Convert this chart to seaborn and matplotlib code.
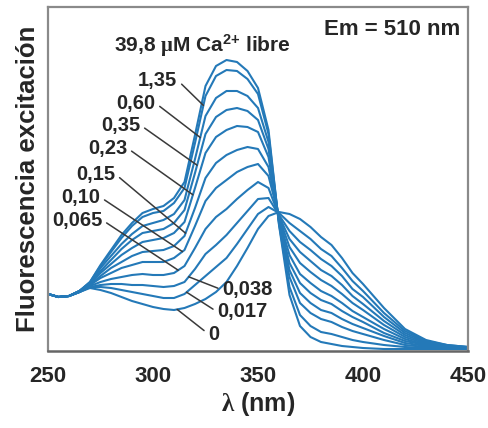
import matplotlib.pyplot as plt
import numpy as np
import pandas as pd
import seaborn as sns

# excitation wavelength (nm)
wavelength = [250, 255, 260, 265, 270, 275, 280, 285, 290, 295, 300, 305, 310, 315, 320, 325, 330, 335,
              340, 345, 350, 355, 360, 365, 370, 375, 380, 385, 390, 395, 400, 410, 420, 430, 440, 450]

# free Ca2+ (uM) labels, lowest to highest
ca_labels = ["0", "0,017", "0,038", "0,065", "0,10", "0,15", "0,23", "0,35", "0,60", "1,35", "39,8"]

# fluorescence (arbitrary units)
f_0 = [56, 53, 54, 58, 62, 60, 57, 53, 49, 46, 43, 41, 40, 42, 46, 51, 58, 68,
       84, 102, 121, 134, 138, 136, 131, 123, 113, 105, 92, 77, 66, 42, 21, 10, 5, 3]
f_0017 = [56, 53, 54, 58, 63, 63, 62, 60, 58, 56, 54, 52, 52, 56, 65, 74, 83, 92,
          106, 121, 136, 143, 137, 127, 119, 111, 101, 94, 82, 69, 59, 37, 19, 9, 5, 3]
f_0038 = [56, 53, 54, 58, 63, 65, 66, 66, 65, 65, 64, 63, 64, 68, 81, 96, 105, 115,
          127, 139, 151, 152, 135, 119, 108, 100, 91, 84, 74, 61, 53, 33, 17, 8, 4, 3]
f_0065 = [56, 53, 54, 58, 64, 68, 71, 73, 75, 76, 75, 75, 77, 84, 102, 121, 133, 141,
          151, 160, 168, 162, 134, 111, 98, 89, 80, 74, 65, 54, 46, 29, 15, 7, 4, 2]
f_010 = [56, 53, 54, 58, 65, 72, 77, 82, 85, 88, 88, 88, 92, 100, 124, 149, 162, 170,
         178, 183, 186, 174, 133, 103, 87, 78, 70, 64, 56, 47, 40, 25, 13, 6, 3, 2]
f_015 = [56, 53, 54, 59, 65, 74, 82, 88, 94, 98, 99, 100, 104, 114, 142, 172, 187, 195,
         200, 203, 201, 183, 131, 95, 76, 67, 59, 54, 47, 39, 33, 21, 11, 5, 3, 2]
f_023 = [56, 53, 54, 59, 66, 77, 86, 95, 102, 108, 110, 112, 117, 128, 162, 197, 213, 220,
         224, 223, 218, 193, 130, 87, 67, 57, 50, 46, 39, 33, 28, 17, 9, 5, 3, 2]
f_035 = [56, 53, 54, 59, 67, 79, 90, 101, 110, 117, 119, 121, 127, 140, 177, 216, 233, 240,
         242, 239, 230, 201, 129, 80, 57, 47, 40, 37, 31, 26, 22, 14, 7, 4, 2, 2]
f_060 = [56, 53, 54, 59, 67, 82, 94, 106, 116, 124, 127, 130, 136, 150, 191, 234, 252, 259,
         259, 254, 242, 208, 128, 73, 47, 37, 31, 28, 23, 19, 16, 10, 5, 3, 2, 2]
f_135 = [56, 53, 54, 59, 68, 84, 98, 112, 124, 133, 137, 139, 147, 162, 207, 254, 274, 280,
         279, 271, 256, 216, 126, 63, 35, 24, 18, 16, 13, 10, 8, 5, 3, 2, 1, 1]
f_398 = [56, 53, 54, 59, 68, 85, 100, 115, 127, 137, 141, 144, 152, 168, 215, 264, 284, 290,
         288, 279, 262, 220, 125, 55, 24, 13, 8, 6, 4, 3, 2, 1, 1, 1, 1, 1]

curves = [f_0, f_0017, f_0038, f_0065, f_010, f_015, f_023, f_035, f_060, f_135, f_398]

# where each label's leader line touches its curve (nm)
label_nm = [311.5, 316, 317, 312, 314, 315.5, 319, 321, 322.5, 324]
# text anchor for each label (nm, fluorescence)
label_xy = [(326.4, 16), (330.7, 38), (333.1, 60), (275.8, 130), (274.8, 153),
            (282.0, 176), (287.7, 202), (293.9, 225), (301.1, 247), (311.6, 270)]

df = pd.concat([pd.DataFrame({"nm": wavelength, "F": c, "Ca": lab})
                for lab, c in zip(ca_labels, curves)], ignore_index=True)

sns.set_style("white")
plt.rcParams["font.family"] = ["Liberation Sans", "DejaVu Sans"]
plt.rcParams["font.weight"] = "bold"
plt.rcParams["mathtext.fontset"] = "custom"
plt.rcParams["mathtext.rm"] = "Liberation Serif"
plt.rcParams["mathtext.bf"] = "Liberation Sans:bold"
plt.rcParams["mathtext.it"] = "Liberation Sans:bold"

blue = "#2479b8"
fig = plt.figure(figsize=(4.88, 4.28), dpi=100)
ax = fig.add_axes([48 / 488, 77 / 428, 420 / 488, 344 / 428])

sns.lineplot(data=df, x="nm", y="F", hue="Ca", palette=[blue] * len(ca_labels),
             legend=False, linewidth=1.5, errorbar=None, ax=ax)

ax.set_xlim(250, 450)
ax.set_ylim(-1, 343)
ax.set_xticks([250, 300, 350, 400, 450])
ax.set_yticks([])
ax.tick_params(axis="x", direction="out", length=7, width=1.5, color="#7a7a7a",
               pad=4, labelsize=16)
for side in ["top", "left", "right"]:
    ax.spines[side].set_color("#8a8a8a")
    ax.spines[side].set_linewidth(1.6)
ax.spines["bottom"].set_color("#666666")
ax.spines["bottom"].set_linewidth(1.8)

ax.set_xlabel(r"$\mathrm{\lambda}$ (nm)", fontsize=18, fontweight="bold", labelpad=2)
ax.set_ylabel("Fluorescencia excitación", fontsize=18.5, fontweight="bold", labelpad=6)

for i, (nm, (tx, ty)) in enumerate(zip(label_nm, label_xy)):
    y_on = np.interp(nm, wavelength, curves[i])
    right_side = i < 3
    ax.annotate(ca_labels[i], xy=(nm, y_on), xytext=(tx, ty),
                ha="left" if right_side else "right", va="center",
                fontsize=14.5, fontweight="bold",
                arrowprops=dict(arrowstyle="-", color="#3a3a3a", lw=1.1,
                                relpos=(0, 0.5) if right_side else (1, 0.5),
                                shrinkA=1, shrinkB=0))

ax.text(0.367, 0.887, r"39,8 $\mathrm{\mu}$M Ca$^{\mathbf{2{+}}}$ libre", transform=ax.transAxes,
        ha="center", va="center", fontsize=15, fontweight="bold")
ax.text(0.981, 0.936, "Em = 510 nm", transform=ax.transAxes,
        ha="right", va="center", fontsize=16, fontweight="bold")

plt.savefig("out.png", dpi=100)
